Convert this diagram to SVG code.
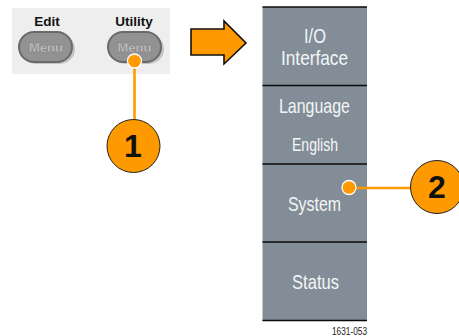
<svg xmlns="http://www.w3.org/2000/svg" width="459" height="336" viewBox="0 0 459 336">
<style>
.lbl{font-family:"Liberation Sans",Arial,sans-serif;font-weight:bold;font-size:13.5px;fill:#111;text-anchor:middle}
.mt{font-family:"Liberation Sans",Arial,sans-serif;font-weight:bold;font-size:13px;fill:#c8c8c8;stroke:#6e6e6e;stroke-width:.3;text-anchor:middle}
.btn{fill:#929292;stroke:#6a6a6a;stroke-width:2}
.sh{fill:#c4c4c4}
.sk{font-family:"Liberation Sans",Arial,sans-serif;fill:#f4f6f6;font-size:21px}
.sep{stroke:#0a0a0a;stroke-width:1.6}
.num{font-family:"Liberation Sans",Arial,sans-serif;font-weight:bold;font-size:32px;fill:#111;text-anchor:middle}
.call{fill:#ff9900;stroke:#222;stroke-width:1}
.ln{stroke:#ff9900;stroke-width:2.600;fill:none}
.dot{fill:#ff9900;stroke:#fff;stroke-width:1.300}
</style>
<g id="panel">
<rect x="12" y="8" width="158" height="66" fill="#eeeeee"/>
<text class="lbl" x="47" y="26">Edit</text>
<text class="lbl" x="134" y="26">Utility</text>
</g>
<g id="edit-menu">
<rect x="21" y="34" width="54" height="30" rx="15" class="sh"/>
<rect x="19" y="32" width="53" height="30" rx="15" class="btn"/>
<text class="mt" x="46" y="52">Menu</text>
</g>
<g id="utility-menu">
<rect x="110" y="34" width="54" height="30" rx="15" class="sh"/>
<rect x="108" y="32" width="53" height="30" rx="15" class="btn"/>
<text class="mt" x="134.500" y="52">Menu</text>
</g>
<g id="arrow">
<path d="M191 29H224V21L246 43L224 64V55H191Z" fill="#ff9900" stroke="#111" stroke-width="1.600"/>
</g>
<g id="softkeys">
<rect x="262.500" y="7" width="104.500" height="314" fill="#828d98"/>
<line class="sep" x1="262.500" y1="7" x2="367" y2="7"/>
<line class="sep" x1="262.500" y1="85.500" x2="367" y2="85.500"/>
<line class="sep" x1="262.500" y1="164" x2="367" y2="164"/>
<line class="sep" x1="262.500" y1="242" x2="367" y2="242"/>
<line class="sep" x1="262.500" y1="320.500" x2="367" y2="320.500"/>
<g id="key-io"><text class="sk" x="304" y="43" textLength="22" lengthAdjust="spacingAndGlyphs">I/O</text><text class="sk" x="281" y="65" textLength="67" lengthAdjust="spacingAndGlyphs">Interface</text></g>
<g id="key-language"><text class="sk" x="279" y="113" textLength="71" lengthAdjust="spacingAndGlyphs">Language</text><text class="sk" x="292" y="151" textLength="46" lengthAdjust="spacingAndGlyphs" style="font-size:18px">English</text></g>
<g id="key-system"><text class="sk" x="288" y="211" textLength="53" lengthAdjust="spacingAndGlyphs">System</text></g>
<g id="key-status"><text class="sk" x="292" y="289" textLength="47" lengthAdjust="spacingAndGlyphs">Status</text></g>
</g>
<g id="connectors">
<line class="ln" x1="134.500" y1="62" x2="134.500" y2="120"/>
<line class="ln" x1="349" y1="188" x2="412" y2="188"/>
</g>
<g id="callout-1">
<circle class="dot" cx="134.500" cy="61" r="7"/>
<circle class="call" cx="133.500" cy="146" r="26.500"/>
<text class="num" x="133" y="157">1</text>
</g>
<g id="callout-2">
<circle class="dot" cx="349" cy="187.500" r="7"/>
<circle class="call" cx="437" cy="187" r="26.500"/>
<text class="num" x="437" y="198">2</text>
</g>
<text id="fig" x="332" y="335" font-family="'Liberation Sans',Arial,sans-serif" font-size="11" fill="#222" textLength="35" lengthAdjust="spacingAndGlyphs">1631-053</text>
</svg>
